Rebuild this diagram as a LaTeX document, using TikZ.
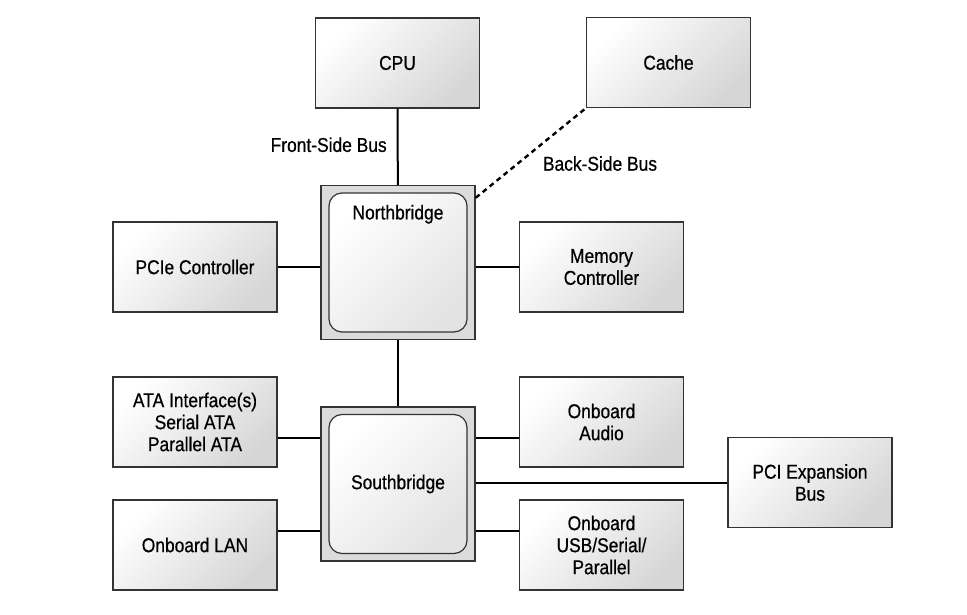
\documentclass[tikz,border=0pt]{standalone}
\usepackage{fontspec}
\setmainfont[FakeStretch=0.87,FakeBold=0.6]{Liberation Sans}
\usepackage{xcolor}
\usepackage{tikz}

\definecolor{boxline}{HTML}{333333}

\begin{document}
\begin{tikzpicture}[x=1pt,y=-1pt,
    every node/.style={font=\fontsize{20}{22}\selectfont},
    unit/.style={draw=boxline,line width=1.4pt,top color=white,bottom color=gray!32,
      shading angle=45,minimum width=164pt,minimum height=90pt,align=center,inner sep=0pt},
    chip/.style={draw=boxline,line width=1.4pt,fill=gray!28,minimum size=154pt,inner sep=0pt},
    core/.style={draw=boxline,line width=1.2pt,rounded corners=13pt,top color=white,
      bottom color=gray!22,shading angle=45,minimum width=138pt,minimum height=139pt,inner sep=0pt},
    bus/.style={line width=2pt,black}]
  \useasboundingbox (0,0) rectangle (967,615);
  \node[unit] (cpu) at (397.5,63) {CPU};
  \node[unit] (cache) at (668.5,62.5) {Cache};
  \node[chip] (nb) at (398,262.5) {};
  \node[core,label={[anchor=north,yshift=-9pt]north:Northbridge}] (nbcore) at (398,262.5) {};
  \node[unit] (pcie) at (195,267) {PCIe Controller};
  \node[unit] (mem) at (601.5,267) {Memory\\Controller};
  \node[chip] (sb) at (398,484) {};
  \node[core] (sbcore) at (398,484) {Southbridge};
  \node[unit] (ata) at (195,422) {ATA Interface(s)\\Serial ATA\\Parallel ATA};
  \node[unit] (audio) at (601.5,422) {Onboard\\Audio};
  \node[unit] (pci) at (810,482.5) {PCI Expansion\\Bus};
  \node[unit] (lan) at (195,545) {Onboard LAN};
  \node[unit] (usb) at (601.5,545) {Onboard\\USB/Serial/\\Parallel};

  \draw[bus] (cpu) -- node[left,inner sep=0pt,xshift=-10pt,yshift=2pt] {Front-Side Bus} (nb);
  \draw[line width=2.4pt,dash pattern=on 5pt off 4pt] ([yshift=-13pt]nb.north east) -- (cache.south west)
    node[midway,anchor=north west,inner sep=0pt,xshift=11pt,yshift=-2pt] {Back-Side Bus};
  \draw[bus] (nb) -- (sb);
  \draw[bus] (pcie.east) -- (pcie.east -| nb.west);
  \draw[bus] (mem.west) -- (mem.west -| nb.east);
  \draw[bus] ([yshift=-16pt]ata.east) -- ([yshift=-16pt]ata.east -| sb.west);
  \draw[bus] ([yshift=-16pt]audio.west) -- ([yshift=-16pt]audio.west -| sb.east);
  \draw[bus] (pci.west) -- (pci.west -| sb.east);
  \draw[bus] ([yshift=14pt]lan.east) -- ([yshift=14pt]lan.east -| sb.west);
  \draw[bus] ([yshift=14pt]usb.west) -- ([yshift=14pt]usb.west -| sb.east);
\end{tikzpicture}
\end{document}
